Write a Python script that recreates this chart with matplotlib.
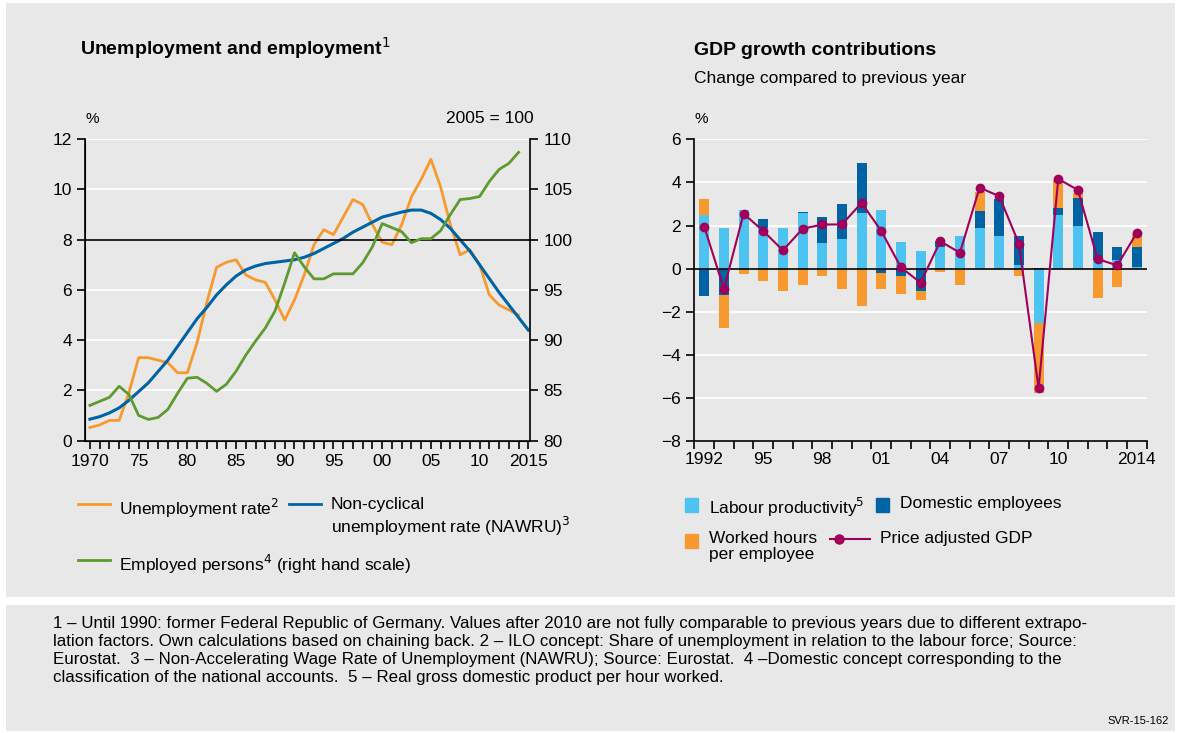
import matplotlib.pyplot as plt
import matplotlib.patches as mpatches
import matplotlib.lines as mlines
import numpy as np

# left chart data
years = list(range(1970, 2015))
unemp = [0.52, 0.62, 0.8, 0.8, 1.9, 3.3, 3.3, 3.2, 3.1, 2.7, 2.7, 3.9, 5.5, 6.9, 7.1, 7.2,
         6.6, 6.4, 6.3, 5.6, 4.8, 5.6, 6.6, 7.8, 8.4, 8.2, 8.9, 9.6, 9.4, 8.6, 7.9, 7.8,
         8.6, 9.7, 10.4, 11.2, 10.1, 8.6, 7.4, 7.6, 7.0, 5.8, 5.4, 5.2, 5.0]
nawru_years = list(range(1970, 2016))
nawru = [0.85, 0.95, 1.1, 1.3, 1.6, 1.95, 2.3, 2.75, 3.2, 3.75, 4.3, 4.85, 5.3, 5.8, 6.2, 6.55,
         6.8, 6.95, 7.05, 7.1, 7.15, 7.2, 7.3, 7.45, 7.65, 7.85, 8.05, 8.3, 8.5, 8.7, 8.9, 9.0,
         9.1, 9.18, 9.18, 9.05, 8.8, 8.45, 8.0, 7.55, 7.0, 6.45, 5.9, 5.4, 4.9, 4.4]
employed = [83.5, 83.9, 84.3, 85.4, 84.6, 82.5, 82.1, 82.3, 83.1, 84.7, 86.2, 86.3, 85.7, 84.9,
            85.6, 86.9, 88.5, 89.9, 91.2, 92.9, 95.7, 98.7, 97.3, 96.1, 96.1, 96.6, 96.6, 96.6,
            97.7, 99.3, 101.6, 101.2, 100.8, 99.7, 100.1, 100.1, 100.9, 102.5, 104.0, 104.1,
            104.3, 105.8, 107.0, 107.6, 108.7]

# right chart data
gdp_years = list(range(1992, 2015))
labour_prod = [2.48, 1.9, 2.7, 1.9, 1.9, 2.6, 1.18, 1.36, 2.58, 2.7, 1.22, 0.8, 1.0, 1.5, 1.89,
               1.5, 0.15, -2.52, 2.48, 1.97, 0.4, 0.39, 0.08]
dom_empl = [-1.27, -1.24, 0.0, 0.4, 0.0, 0.05, 1.2, 1.63, 2.32, -0.2, -0.34, -1.05, 0.3, 0.0,
            0.77, 1.72, 1.35, 0.05, 0.33, 1.3, 1.28, 0.6, 0.91]
work_hours = [0.74, -1.52, -0.26, -0.55, -1.05, -0.77, -0.34, -0.96, -1.73, -0.74, -0.84, -0.4,
              -0.15, -0.76, 0.89, 0.0, -0.34, -3.25, 1.3, 0.23, -1.36, -0.87, 0.6]
gdp = [1.95, -0.94, 2.55, 1.75, 0.85, 1.85, 2.05, 2.05, 3.05, 1.75, 0.06, -0.65, 1.27, 0.74,
       3.76, 3.36, 1.16, -5.54, 4.16, 3.65, 0.45, 0.15, 1.67]

ORANGE = '#f7992f'
NAVY = '#0063a3'
GREEN = '#5e9a30'
LIGHTBLUE = '#4cc3f1'
MAGENTA = '#a0005a'
BG = '#e8e8e8'

plt.rcParams['font.family'] = 'Liberation Sans'
plt.rcParams['font.size'] = 11

fig = plt.figure(figsize=(11.81, 7.33), dpi=100)
fig.patch.set_facecolor('white')
fig.patches.append(mpatches.Rectangle((0.005, 0.186), 0.99, 0.81, transform=fig.transFigure,
                                      facecolor=BG, edgecolor='none', zorder=-10))
fig.patches.append(mpatches.Rectangle((0.005, 0.003), 0.99, 0.172, transform=fig.transFigure,
                                      facecolor=BG, edgecolor='none', zorder=-10))


def style(ax):
    ax.set_facecolor(BG)
    ax.grid(axis='y', color='white', lw=1.3)
    ax.set_axisbelow(True)
    ax.spines['top'].set_visible(False)
    ax.tick_params(labelsize=12.5, length=6, width=1.2)


# left chart
ax1 = fig.add_axes([0.072, 0.399, 0.377, 0.411])
style(ax1)
ax1.plot(years, unemp, color=ORANGE, lw=2)
ax1.plot(nawru_years, nawru, color=NAVY, lw=2.2)
ax1.axhline(8, color='black', lw=1.2)
ax1.set_xlim(1969.5, 2015.2)
ax1.set_ylim(0, 12)
ax1.set_yticks(range(0, 13, 2))
ax1.set_xticks(range(1970, 2016))
ax1.set_xticklabels(['1970' if y == 1970 else '2015' if y == 2015 else
                     (f'{y % 100:02d}' if y % 5 == 0 else '') for y in range(1970, 2016)])
ax1.spines['right'].set_visible(False)
ax1b = ax1.twinx()
ax1b.plot(years, employed, color=GREEN, lw=2)
ax1b.set_ylim(80, 110)
ax1b.set_yticks(range(80, 111, 5))
ax1b.tick_params(labelsize=12.5, length=6, width=1.2)
ax1b.spines['top'].set_visible(False)
for sp in ['left', 'right', 'bottom']:
    ax1.spines[sp].set_linewidth(1.2)
ax1b.spines['right'].set_linewidth(1.2)

fig.text(0.068, 0.925, 'Unemployment and employment$^1$', fontsize=14, fontweight='bold')
fig.text(0.072, 0.832, '%', fontsize=11)
fig.text(0.452, 0.832, '2005 = 100', fontsize=12.5, ha='right')

# right chart
ax2 = fig.add_axes([0.588, 0.398, 0.383, 0.412])
style(ax2)
ax2.spines['right'].set_visible(False)
lp = np.array(labour_prod)
de = np.array(dom_empl)
wh = np.array(work_hours)
pos_base = np.zeros(len(gdp_years))
neg_base = np.zeros(len(gdp_years))
for vals, col in [(lp, LIGHTBLUE), (de, NAVY), (wh, ORANGE)]:
    p = np.where(vals > 0, vals, 0)
    n = np.where(vals < 0, vals, 0)
    ax2.bar(gdp_years, p, bottom=pos_base, width=0.5, color=col)
    ax2.bar(gdp_years, n, bottom=neg_base, width=0.5, color=col)
    pos_base += p
    neg_base += n
ax2.axhline(0, color='black', lw=1.2)
ax2.plot(gdp_years, gdp, color=MAGENTA, lw=1.5, marker='o', ms=6)
ax2.set_xlim(1991.5, 2014.5)
ax2.set_ylim(-8, 6)
ax2.set_yticks(range(-8, 7, 2))
ax2.set_xticks([x - 0.5 for x in range(1992, 2016)], minor=False)
ax2.set_xticklabels([])
ax2.set_xticks([1992, 1995, 1998, 2001, 2004, 2007, 2010, 2014], minor=True)
ax2.set_xticklabels(['1992', '95', '98', '01', '04', '07', '10', '2014'], minor=True)
ax2.tick_params(axis='x', which='minor', length=0, labelsize=12.5, pad=8)
ax2.spines['left'].set_linewidth(1.2)
ax2.spines['bottom'].set_linewidth(1.2)

fig.text(0.588, 0.925, 'GDP growth contributions', fontsize=14, fontweight='bold')
fig.text(0.588, 0.887, 'Change compared to previous year', fontsize=12.5)
fig.text(0.588, 0.832, '%', fontsize=11)


# legends, drawn by hand in figure coordinates
def line_key(x, y, color, label, marker=None):
    fig.add_artist(mlines.Line2D([x, x + 0.03], [y, y], color=color, lw=2 if marker is None else 1.5,
                                 marker=marker, ms=6, markevery=[1] if marker else None,
                                 transform=fig.transFigure))
    if marker:
        fig.add_artist(mlines.Line2D([x], [y], color=color, marker=marker, ms=6,
                                     transform=fig.transFigure))
    fig.text(x + 0.04, y, label, fontsize=12.5, va='top', transform=fig.transFigure,
             linespacing=1.15)


def box_key(x, y, color, label):
    fig.add_artist(mpatches.Rectangle((x, y - 0.011), 0.011, 0.019, color=color,
                                      transform=fig.transFigure))
    fig.text(x + 0.02, y + 0.012, label, fontsize=12.5, va='top', linespacing=1.15)


fig.add_artist(mlines.Line2D([0.066, 0.093], [0.312, 0.312], color=ORANGE, lw=2))
fig.text(0.101, 0.322, 'Unemployment rate$^2$', fontsize=12.5, va='top')
fig.add_artist(mlines.Line2D([0.245, 0.272], [0.312, 0.312], color=NAVY, lw=2))
fig.text(0.28, 0.322, 'Non-cyclical\nunemployment rate (NAWRU)$^3$', fontsize=12.5,
         va='top', linespacing=1.15)
fig.add_artist(mlines.Line2D([0.066, 0.093], [0.236, 0.236], color=GREEN, lw=2))
fig.text(0.101, 0.246, 'Employed persons$^4$ (right hand scale)', fontsize=12.5, va='top')

box_key(0.580, 0.312, LIGHTBLUE, 'Labour productivity$^5$')
box_key(0.742, 0.312, NAVY, 'Domestic employees')
box_key(0.580, 0.264, ORANGE, 'Worked hours\nper employee')
fig.add_artist(mlines.Line2D([0.703, 0.737], [0.264, 0.264], color=MAGENTA, lw=1.5))
fig.add_artist(mlines.Line2D([0.710], [0.264], color=MAGENTA, marker='o', ms=6.5))
fig.text(0.745, 0.276, 'Price adjusted GDP', fontsize=12.5, va='top')

foot = ("1 \u2013 Until 1990: former Federal Republic of Germany. Values after 2010 are not fully comparable to previous years due to different extrapo-\n"
        "lation factors. Own calculations based on chaining back. 2 \u2013 ILO concept: Share of unemployment in relation to the labour force; Source:\n"
        "Eurostat.  3 \u2013 Non-Accelerating Wage Rate of Unemployment (NAWRU); Source: Eurostat.  4 \u2013Domestic concept corresponding to the\n"
        "classification of the national accounts.  5 \u2013 Real gross domestic product per hour worked.")
fig.text(0.045, 0.16, foot, fontsize=12.2, va='top', linespacing=1.25)
fig.text(0.99, 0.012, 'SVR-15-162', fontsize=8, ha='right')

fig.savefig('out.png', dpi=100)
